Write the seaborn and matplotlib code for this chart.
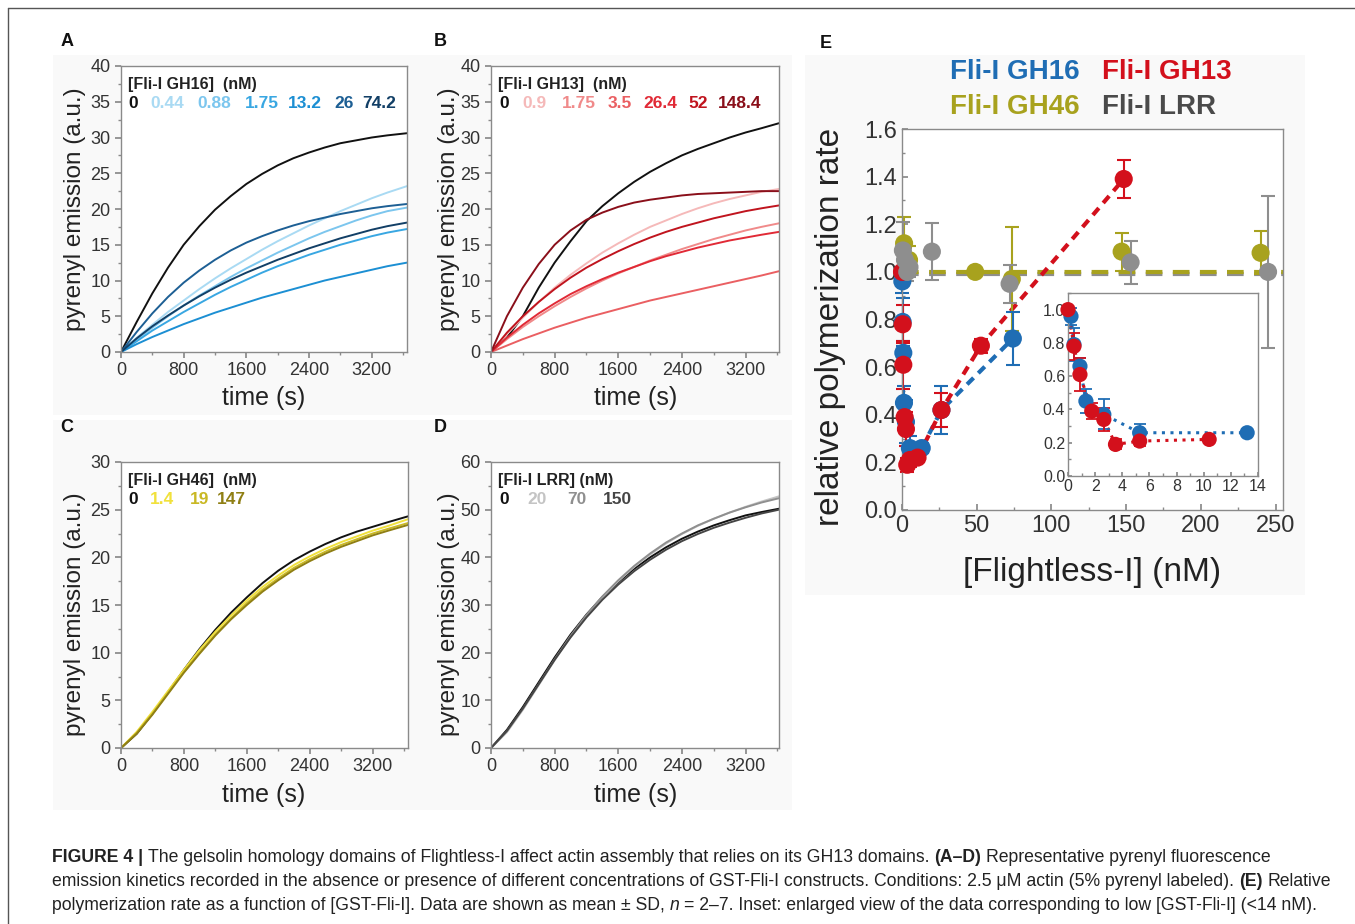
import numpy as np
import pandas as pd
import seaborn as sns
import matplotlib
matplotlib.use("Agg")
import matplotlib.pyplot as plt
from matplotlib.ticker import MultipleLocator
from matplotlib.patches import Rectangle
from matplotlib.lines import Line2D
from matplotlib import font_manager

# -------------------------------------------------------------------
# Data
# -------------------------------------------------------------------
# Panel A: Fli-I GH16 kinetics
time_a = [0, 200, 400, 600, 800, 1000, 1200, 1400, 1600, 1800, 2000,
          2200, 2400, 2600, 2800, 3000, 3200, 3400, 3650]
gh16_labels = ["0", "0.44", "0.88", "1.75", "13.2", "26", "74.2"]
gh16_colors = ["#111111", "#a9daf3", "#7cc6ee", "#39a7e2", "#1c8fd3", "#1d5f94", "#123f66"]
gh16_0 = [0, 4.2, 8.2, 11.8, 15.0, 17.6, 19.9, 21.8, 23.5, 24.9, 26.1, 27.1, 27.9, 28.6, 29.2, 29.6, 30.0, 30.3, 30.6]
gh16_044 = [0, 2.0, 3.8, 5.6, 7.2, 8.8, 10.3, 11.7, 13.0, 14.3, 15.5, 16.6, 17.7, 18.7, 19.7, 20.6, 21.5, 22.3, 23.2]
gh16_088 = [0, 1.7, 3.4, 5.0, 6.5, 7.9, 9.2, 10.5, 11.7, 12.8, 13.9, 14.9, 15.9, 16.8, 17.6, 18.4, 19.1, 19.7, 20.2]
gh16_175 = [0, 1.5, 3.0, 4.3, 5.6, 6.8, 8.0, 9.1, 10.1, 11.1, 12.0, 12.8, 13.6, 14.3, 15.0, 15.6, 16.2, 16.7, 17.2]
gh16_132 = [0, 1.1, 2.1, 3.0, 3.9, 4.7, 5.5, 6.2, 6.9, 7.6, 8.2, 8.8, 9.4, 10.0, 10.5, 11.0, 11.5, 12.0, 12.5]
gh16_26 = [0, 2.8, 5.4, 7.7, 9.7, 11.4, 12.9, 14.2, 15.3, 16.2, 17.0, 17.7, 18.3, 18.8, 19.3, 19.7, 20.1, 20.4, 20.7]
gh16_742 = [0, 1.9, 3.6, 5.1, 6.5, 7.8, 9.0, 10.1, 11.1, 12.0, 12.9, 13.7, 14.5, 15.2, 15.9, 16.5, 17.1, 17.6, 18.1]

# Panel B: Fli-I GH13 kinetics
time_b = [0, 200, 400, 600, 800, 1000, 1200, 1400, 1600, 1800, 2000,
          2200, 2400, 2600, 2800, 3000, 3200, 3400, 3620]
gh13_labels = ["0", "0.9", "1.75", "3.5", "26.4", "52", "148.4"]
gh13_colors = ["#111111", "#f5b9b9", "#f08a8a", "#ea5f62", "#e12a36", "#c0141e", "#8a0f1a"]
gh13_0 = [0, 2.0, 5.0, 9.0, 12.5, 15.5, 18.3, 20.4, 22.2, 23.8, 25.2, 26.4, 27.5, 28.4, 29.2, 30.0, 30.7, 31.3, 32.0]
gh13_09 = [0, 2.5, 4.8, 7.0, 9.0, 10.8, 12.4, 13.9, 15.2, 16.4, 17.5, 18.4, 19.3, 20.1, 20.8, 21.4, 21.9, 22.4, 22.8]
gh13_175 = [0, 1.8, 3.5, 5.0, 6.4, 7.7, 8.9, 10.0, 11.0, 11.9, 12.8, 13.6, 14.4, 15.1, 15.8, 16.4, 17.0, 17.5, 18.0]
gh13_35 = [0, 0.9, 1.8, 2.6, 3.4, 4.1, 4.8, 5.4, 6.0, 6.6, 7.2, 7.7, 8.2, 8.7, 9.2, 9.7, 10.2, 10.7, 11.3]
gh13_264 = [0, 2.0, 3.8, 5.4, 6.8, 8.1, 9.2, 10.2, 11.1, 11.9, 12.7, 13.4, 14.0, 14.6, 15.1, 15.6, 16.0, 16.4, 16.8]
gh13_52 = [0, 2.7, 5.0, 7.0, 8.8, 10.4, 11.8, 13.0, 14.1, 15.1, 16.0, 16.8, 17.5, 18.1, 18.7, 19.2, 19.7, 20.1, 20.5]
gh13_1484 = [0, 5.0, 9.0, 12.3, 15.0, 17.0, 18.5, 19.5, 20.3, 20.9, 21.3, 21.6, 21.9, 22.1, 22.2, 22.3, 22.4, 22.5, 22.5]

# Panel C: Fli-I GH46 kinetics
gh46_labels = ["0", "1.4", "19", "147"]
gh46_colors = ["#111111", "#f1e13c", "#c9b824", "#8f7f14"]
gh46_0 = [0, 1.5, 3.6, 5.9, 8.2, 10.4, 12.4, 14.2, 15.8, 17.3, 18.6, 19.7, 20.6, 21.4, 22.1, 22.7, 23.2, 23.7, 24.3]
gh46_14 = [0, 1.7, 3.8, 6.0, 8.2, 10.3, 12.2, 13.9, 15.5, 16.9, 18.1, 19.2, 20.1, 20.9, 21.6, 22.2, 22.8, 23.3, 24.0]
gh46_19 = [0, 1.6, 3.6, 5.8, 8.0, 10.0, 11.9, 13.6, 15.2, 16.6, 17.8, 18.9, 19.8, 20.6, 21.3, 21.9, 22.5, 23.0, 23.6]
gh46_147 = [0, 1.5, 3.5, 5.7, 7.9, 9.9, 11.8, 13.5, 15.0, 16.4, 17.6, 18.7, 19.6, 20.4, 21.1, 21.7, 22.3, 22.8, 23.4]

# Panel D: Fli-I LRR kinetics
lrr_labels = ["0", "20", "70", "150"]
lrr_colors = ["#111111", "#c4c4c4", "#8f8f8f", "#454545"]
lrr_0 = [0, 3.8, 8.6, 13.8, 19.0, 23.8, 28.0, 31.7, 34.8, 37.6, 40.0, 42.1, 43.9, 45.4, 46.7, 47.8, 48.8, 49.5, 50.2]
lrr_20 = [0, 3.3, 8.0, 13.2, 18.4, 23.3, 27.7, 31.6, 35.0, 38.0, 40.6, 42.9, 44.9, 46.6, 48.1, 49.4, 50.6, 51.7, 52.8]
lrr_70 = [0, 3.5, 8.2, 13.4, 18.6, 23.5, 27.9, 31.8, 35.2, 38.2, 40.8, 43.1, 45.0, 46.7, 48.1, 49.4, 50.5, 51.5, 52.4]
lrr_150 = [0, 3.6, 8.3, 13.4, 18.5, 23.2, 27.4, 31.1, 34.3, 37.1, 39.5, 41.6, 43.4, 44.9, 46.2, 47.3, 48.3, 49.2, 50.0]

# Panel E: relative polymerization rate vs [Flightless-I] (nM)
gh16_conc = [0.22, 0.44, 0.88, 1.32, 2.64, 5.28, 13.2, 26.4, 74.2]
gh16_rate = [0.96, 0.79, 0.66, 0.45, 0.37, 0.26, 0.26, 0.42, 0.72]
gh16_sd = [0.05, 0.10, 0.05, 0.07, 0.09, 0.05, 0.02, 0.10, 0.11]
gh13_conc = [0.0, 0.44, 0.88, 1.75, 2.64, 3.5, 5.28, 10.4, 26.4, 52.8, 148.4]
gh13_rate = [1.00, 0.78, 0.61, 0.39, 0.34, 0.19, 0.21, 0.22, 0.42, 0.69, 1.39]
gh13_sd = [0.02, 0.08, 0.10, 0.05, 0.07, 0.03, 0.03, 0.02, 0.07, 0.03, 0.08]
gh46_conc = [1.4, 4.7, 49.0, 73.5, 147.0, 240.0]
gh46_rate = [1.12, 1.05, 1.00, 0.97, 1.085, 1.08]
gh46_sd = [0.11, 0.06, 0.01, 0.22, 0.08, 0.09]
lrr_conc = [0.6, 2.0, 3.5, 5.0, 20.0, 72.0, 153.0, 245.0]
lrr_rate = [1.09, 1.05, 1.00, 1.02, 1.085, 0.95, 1.04, 1.00]
lrr_sd = [0.12, 0.05, 0.04, 0.04, 0.12, 0.08, 0.09, 0.32]
gh46_fit = 1.0
lrr_fit = 0.993

# -------------------------------------------------------------------
# Figure set-up (pixel based layout)
# -------------------------------------------------------------------
W, H = 1355, 924
sns.set_theme(style="ticks")
plt.rcParams['font.family'] = ['Liberation Sans', 'DejaVu Sans']

fig = plt.figure(figsize=(W / 100, H / 100), dpi=100, facecolor="white")


def add_ax(x0, y0, x1, y1):
    return fig.add_axes([x0 / W, 1 - y1 / H, (x1 - x0) / W, (y1 - y0) / H])


def ftext(x, y, s, **kw):
    return fig.text(x / W, 1 - y / H, s, **kw)


def bg(x0, y0, x1, y1, c="#f9f9f9"):
    fig.patches.append(Rectangle((x0 / W, 1 - y1 / H), (x1 - x0) / W, (y1 - y0) / H,
                                 transform=fig.transFigure, fc=c, ec="none", zorder=-1))


# faint backgrounds of the original panel images
bg(53, 55, 792, 415)
bg(53, 420, 792, 810)
bg(805, 55, 1305, 595)

# frame lines
fig.add_artist(Line2D([8 / W, 1.0], [1 - 8 / H, 1 - 8 / H], transform=fig.transFigure, color="#555555", lw=1))
fig.add_artist(Line2D([8 / W, 8 / W], [1 - 8 / H, 0], transform=fig.transFigure, color="#555555", lw=1))


def style_axes(ax, size, direction="out"):
    ax.set_facecolor("white")
    for s in ax.spines.values():
        s.set_color("#8a8a8a")
        s.set_linewidth(1.0)
        s.set_visible(True)
    ax.tick_params(which="both", direction=direction, color="#8a8a8a", labelcolor="#333333",
                   labelsize=size, top=False, right=False)
    ax.tick_params(which="major", length=4)
    ax.tick_params(which="minor", length=2.5)
    ax.set_xlabel("")
    ax.set_ylabel("")


def kinetic_panel(box, t, curves, labels, colors, ymax, ystep, xmax):
    ax = add_ax(*box)
    df = pd.DataFrame({"time": np.tile(t, len(curves)),
                       "signal": np.concatenate(curves),
                       "conc": np.repeat(labels, len(t))})
    sns.lineplot(data=df, x="time", y="signal", hue="conc", hue_order=labels,
                 palette=dict(zip(labels, colors)), legend=False, lw=1.4, ax=ax)
    ax.set_xlim(0, xmax)
    ax.set_ylim(0, ymax)
    ax.set_xticks([0, 800, 1600, 2400, 3200])
    ax.xaxis.set_minor_locator(MultipleLocator(400))
    ax.yaxis.set_major_locator(MultipleLocator(ystep))
    ax.yaxis.set_minor_locator(MultipleLocator(ystep / 2))
    style_axes(ax, 13)
    return ax


kinetic_panel((121, 66, 407, 352), time_a,
              [gh16_0, gh16_044, gh16_088, gh16_175, gh16_132, gh16_26, gh16_742],
              gh16_labels, gh16_colors, 40, 5, 3650)
kinetic_panel((491, 66, 779, 352), time_b,
              [gh13_0, gh13_09, gh13_175, gh13_35, gh13_264, gh13_52, gh13_1484],
              gh13_labels, gh13_colors, 40, 5, 3620)
kinetic_panel((121, 462, 408, 748), time_a,
              [gh46_0, gh46_14, gh46_19, gh46_147],
              gh46_labels, gh46_colors, 30, 5, 3650)
kinetic_panel((491, 462, 779, 748), time_b,
              [lrr_0, lrr_20, lrr_70, lrr_150],
              lrr_labels, lrr_colors, 60, 10, 3620)

# axis labels of the kinetic panels
for xl, yl in [(75, 209), (449, 209), (75, 614), (449, 614)]:
    ftext(xl, yl, "pyrenyl emission (a.u.)", rotation=90, ha="center", va="center",
          fontsize=17.5, color="#222222")
for xl, yl in [(264, 398), (636, 398), (264, 795), (636, 795)]:
    ftext(xl, yl, "time (s)", ha="center", va="center", fontsize=18, color="#222222")


# in-panel concentration keys
def conc_key(x, y_title, y_nums, title, labels, colors, xs):
    ftext(x, y_title, title, fontsize=11.5, fontweight="bold", color="#222222", va="center")
    for lab, col, xx in zip(labels, colors, xs):
        ftext(xx, y_nums, lab, fontsize=12.5, fontweight="bold", color=col, va="center")


conc_key(128, 85, 103, "[Fli-I GH16]  (nM)", gh16_labels, gh16_colors,
         [128, 150, 197, 245, 288, 334, 362])
conc_key(498, 85, 103, "[Fli-I GH13]  (nM)", gh13_labels, gh13_colors,
         [499, 522, 562, 608, 643, 688, 718])
conc_key(128, 481, 500, "[Fli-I GH46]  (nM)", gh46_labels, gh46_colors,
         [128, 150, 190, 217])
conc_key(498, 481, 500, "[Fli-I LRR] (nM)", lrr_labels, lrr_colors,
         [499, 527, 567, 603])

# panel letters
for x, y, s in [(67, 42, "A"), (440, 42, "B"), (67, 428, "C"), (440, 428, "D"), (826, 43, "E")]:
    ftext(x, y, s, fontsize=13, fontweight="bold", ha="center", va="center", color="#111111")

# -------------------------------------------------------------------
# Panel E
# -------------------------------------------------------------------
c_blue, c_red, c_olive, c_gray = "#1f6db4", "#d3101c", "#a8a21e", "#8e8e8e"
rate_df = pd.concat([
    pd.DataFrame({"conc": gh16_conc, "rate": gh16_rate, "sd": gh16_sd, "construct": "GH16"}),
    pd.DataFrame({"conc": gh13_conc, "rate": gh13_rate, "sd": gh13_sd, "construct": "GH13"}),
    pd.DataFrame({"conc": gh46_conc, "rate": gh46_rate, "sd": gh46_sd, "construct": "GH46"}),
    pd.DataFrame({"conc": lrr_conc, "rate": lrr_rate, "sd": lrr_sd, "construct": "LRR"}),
], ignore_index=True)
pal = {"GH16": c_blue, "GH13": c_red, "GH46": c_olive, "LRR": c_gray}

ax_e = add_ax(902, 129, 1283, 510)
ax_e.axhline(lrr_fit, color=c_gray, lw=3, ls=(0, (4, 2.5)), zorder=1)
ax_e.axhline(gh46_fit, color=c_olive, lw=3, ls=(0, (4, 2.5)), zorder=1)
for name, dash_from in [("GH16", 13.0), ("GH13", 10.0)]:
    sub = rate_df[(rate_df.construct == name) & (rate_df.conc >= dash_from)]
    ax_e.plot(sub.conc, sub.rate, color=pal[name], lw=3, ls=(0, (2.2, 1.6)), zorder=1)
for name in ["GH46", "LRR", "GH16", "GH13"]:
    sub = rate_df[rate_df.construct == name]
    ax_e.errorbar(sub.conc, sub.rate, yerr=sub.sd, fmt="none", ecolor=pal[name],
                  elinewidth=1.5, capsize=5, capthick=1.5, zorder=2, clip_on=False)
sns.scatterplot(data=rate_df, x="conc", y="rate", hue="construct", hue_order=["GH46", "LRR", "GH16", "GH13"],
                palette=pal, s=170, edgecolor="none", legend=False, zorder=3, clip_on=False, ax=ax_e)
ax_e.set_xlim(0, 255)
ax_e.set_ylim(0, 1.6)
ax_e.xaxis.set_major_locator(MultipleLocator(50))
ax_e.xaxis.set_minor_locator(MultipleLocator(25))
ax_e.yaxis.set_major_locator(MultipleLocator(0.2))
ax_e.yaxis.set_minor_locator(MultipleLocator(0.1))
ax_e.yaxis.set_major_formatter(matplotlib.ticker.FormatStrFormatter("%.1f"))
style_axes(ax_e, 17, direction="in")

ftext(830, 327, "relative polymerization rate", rotation=90, ha="center", va="center",
      fontsize=24, color="#222222")
ftext(1092, 573, "[Flightless-I] (nM)", ha="center", va="center", fontsize=24, color="#222222")

for x, y, s, c in [(950, 72, "Fli-I GH16", c_blue), (1102, 72, "Fli-I GH13", c_red),
                   (950, 107, "Fli-I GH46", c_olive), (1102, 107, "Fli-I LRR", "#4a4a4a")]:
    ftext(x, y, s, fontsize=20, fontweight="bold", color=c, va="center", ha="left")

# inset
ax_in = add_ax(1068, 293, 1258, 476)
low = rate_df[rate_df.construct.isin(["GH16", "GH13"]) & (rate_df.conc <= 14)]
for name in ["GH16", "GH13"]:
    sub = low[low.construct == name]
    ax_in.plot(sub.conc, sub.rate, color=pal[name], lw=2.2, ls=(0, (1, 1.8)), zorder=1)
    ax_in.errorbar(sub.conc, sub.rate, yerr=sub.sd, fmt="none", ecolor=pal[name],
                   elinewidth=1.3, capsize=4, capthick=1.3, zorder=2, clip_on=False)
sns.scatterplot(data=low, x="conc", y="rate", hue="construct", hue_order=["GH16", "GH13"],
                palette=pal, s=120, edgecolor="none", legend=False, zorder=3, clip_on=False, ax=ax_in)
ax_in.set_xlim(0, 14)
ax_in.set_ylim(0, 1.1)
ax_in.xaxis.set_major_locator(MultipleLocator(2))
ax_in.xaxis.set_minor_locator(MultipleLocator(1))
ax_in.set_yticks([0, 0.2, 0.4, 0.6, 0.8, 1.0])
ax_in.yaxis.set_minor_locator(MultipleLocator(0.1))
ax_in.yaxis.set_major_formatter(matplotlib.ticker.FormatStrFormatter("%.1f"))
style_axes(ax_in, 11.5, direction="in")
ax_in.tick_params(which="major", length=3, pad=2)

# -------------------------------------------------------------------
# Caption
# -------------------------------------------------------------------
try:
    font_manager.findfont("Liberation Sans Narrow", fallback_to_default=False)
    cap_family = ["Liberation Sans Narrow", "DejaVu Sans"]
except Exception:
    cap_family = ["Liberation Sans", "DejaVu Sans"]

renderer = fig.canvas.get_renderer()


def text_width(s, size, weight="normal", style="normal"):
    t = fig.text(0, 0, s, fontsize=size, fontweight=weight, fontstyle=style, family=cap_family)
    w = t.get_window_extent(renderer).width
    t.remove()
    return w


def run_width(s, size, weight, style):
    sw = text_width("a a", size, weight, style) - text_width("aa", size, weight, style)
    core = s.strip()
    lead = len(s) - len(s.lstrip())
    trail = len(s) - len(s.rstrip())
    return lead * sw, text_width(core, size, weight, style) if core else 0, trail * sw


def draw_runs(x, y, runs, size):
    for s, weight, style in runs:
        lead, w, trail = run_width(s, size, weight, style)
        ftext(x + lead, y, s.strip(), fontsize=size, fontweight=weight, fontstyle=style,
              family=cap_family, va="center", ha="left", color="#222222")
        x += lead + w + trail
    return x


N, B, I = "normal", "bold", "italic"
cap1 = [("FIGURE 4 |", B, N),
        (" The gelsolin homology domains of Flightless-I affect actin assembly that relies on its GH13 domains. ", N, N),
        ("(A–D)", B, N), (" Representative pyrenyl fluorescence", N, N)]
cap2 = [("emission kinetics recorded in the absence or presence of different concentrations of GST-Fli-I constructs. "
         "Conditions: 2.5 μM actin (5% pyrenyl labeled). ", N, N), ("(E)", B, N), (" Relative", N, N)]
cap3 = [("polymerization rate as a function of [GST-Fli-I]. Data are shown as mean ± SD, ", N, N), ("n", N, I),
        (" = 2–7. Inset: enlarged view of the data corresponding to low [GST-Fli-I] (<14 nM).", N, N)]

ref = 10.0
w2 = sum(sum(run_width(s, ref, wgt, sty)) for s, wgt, sty in cap2)
cap_size = ref * (1335 - 52) / w2
draw_runs(52, 858, cap1, cap_size)
draw_runs(52, 882, cap2, cap_size)
draw_runs(52, 906, cap3, cap_size)

fig.savefig("out.png", dpi=100, facecolor="white")
